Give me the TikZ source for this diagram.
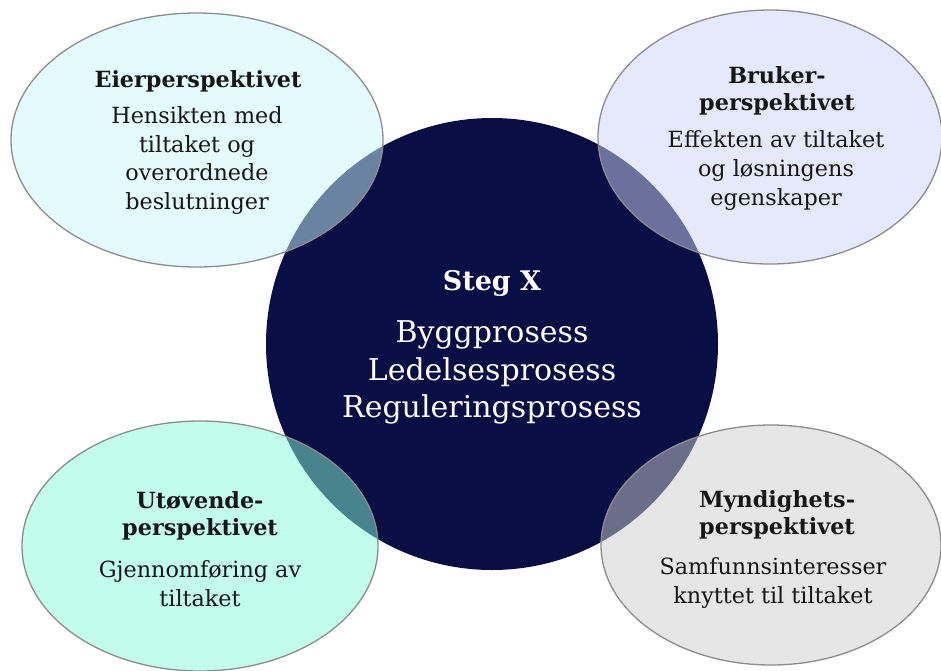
\documentclass[tikz,border=0pt]{standalone}
\usepackage{fontspec}
\setmainfont{DejaVu Serif}
\usetikzlibrary{shapes.geometric}

\definecolor{navy}{RGB}{9,15,68}
\definecolor{rimgray}{RGB}{140,140,140}
\definecolor{inkgray}{RGB}{22,22,22}
\definecolor{eiercol}{RGB}{201,247,253}
\definecolor{brukercol}{RGB}{205,209,247}
\definecolor{utovcol}{RGB}{133,249,215}
\definecolor{myndcol}{RGB}{205,205,205}

\begin{document}
\begin{tikzpicture}[x=1pt,y=-1pt,
  lens/.style={ellipse, draw=rimgray, line width=1.3pt, fill opacity=0.5,
    draw opacity=1, inner sep=0pt},
  head/.style={align=center, inner sep=0pt, text=inkgray,
    font=\bfseries\fontsize{22.3}{27}\selectfont},
  body/.style={align=center, inner sep=0pt, text=inkgray,
    font=\fontsize{22.3}{28.7}\selectfont},
  corehead/.style={align=center, inner sep=0pt, text=white,
    font=\bfseries\fontsize{27}{33}\selectfont},
  corebody/.style={align=center, inner sep=0pt, text=white,
    font=\fontsize{30}{37.5}\selectfont}]
\useasboundingbox (0,0) rectangle (941,670);

% central process circle
\node[circle, fill=navy, minimum size=452pt, inner sep=0pt] (core) at (492,344) {};

% four perspective ellipses, translucent over the circle
\node[lens, fill=eiercol,   minimum width=372pt, minimum height=254pt] (eier)   at (197,140) {};
\node[lens, fill=brukercol, minimum width=344pt, minimum height=254pt] (bruker) at (770,137) {};
\node[lens, fill=utovcol,   minimum width=356pt, minimum height=250pt] (utov)   at (200,546) {};
\node[lens, fill=myndcol,   minimum width=340pt, minimum height=240pt] (mynd)   at (771,545) {};

% centre texts
\node[corehead] (steg) at (492,283) {Steg X};
\node[corebody] (prosess) at (492,372.5) {Byggprosess\\Ledelsesprosess\\Reguleringsprosess};

% ellipse texts
\node[head] (eierT) at (198,81.5) {Eierperspektivet};
\node[body] (eierB) at (197,160.5) {Hensikten med\\tiltaket og\\overordnede\\beslutninger};

\node[head] (brukerT) at (777,91) {Bruker-\\perspektivet};
\node[body] (brukerB) at (776,170.5) {Effekten av tiltaket\\og løsningens\\egenskaper};

\node[head] (utovT) at (200,515.5) {Utøvende-\\perspektivet};
\node[body] (utovB) at (200,584) {Gjennomføring av\\tiltaket};

\node[head] (myndT) at (777,514.5) {Myndighets-\\perspektivet};
\node[body] (myndB) at (773,583) {Samfunnsinteresser\\knyttet til tiltaket};
\end{tikzpicture}
\end{document}
